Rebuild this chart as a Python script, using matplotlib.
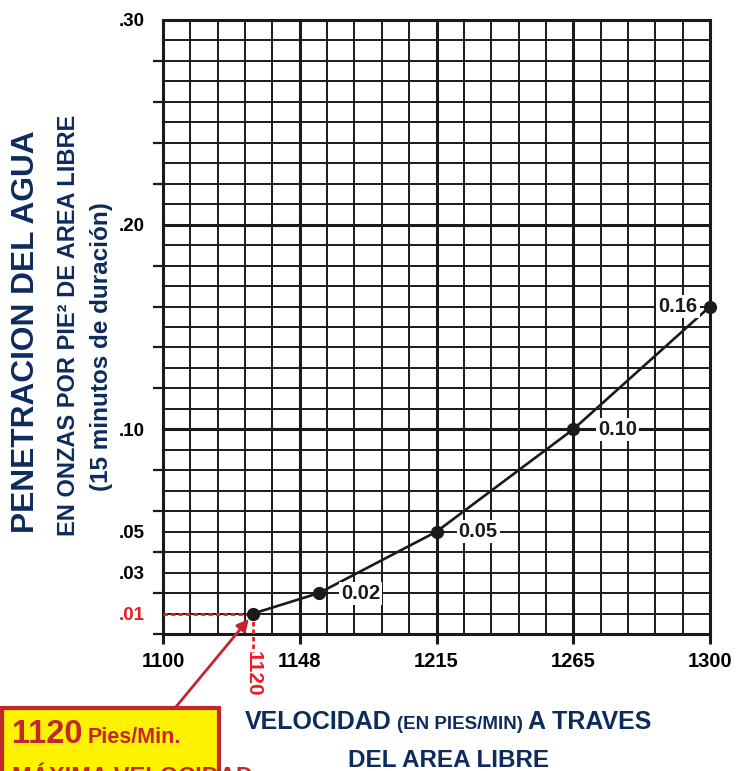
import matplotlib.pyplot as plt
from matplotlib.patches import Rectangle

plt.rcParams['font.family'] = ['Liberation Sans', 'DejaVu Sans']
plt.rcParams['font.weight'] = 'bold'

# x axis is a schematic grid of 20 columns, labelled every 5th column
vel_ticks = [0, 5, 10, 15, 20]
vel_labels = ['1100', '1148', '1215', '1265', '1300']

pen_ticks = [0.30, 0.20, 0.10, 0.05, 0.03, 0.01]
pen_labels = ['.30', '.20', '.10', '.05', '.03', '.01']

point_x = [3.3, 5.7, 10, 15, 20]
point_y = [0.01, 0.02, 0.05, 0.10, 0.16]
point_text = ['', '0.02', '0.05', '0.10', '0.16']
label_dx = [0, 30, 30, 32, -23]   # points

max_vel = '1120'

NAVY = '#0d2b5c'
RED = '#ec1c24'
DARKRED = '#c1272d'
INK = '#1a1a1a'

W, H = 742, 771
fig = plt.figure(figsize=(W / 100, H / 100), dpi=100)


def px(x0, y0, x1, y1):
    return [x0 / W, 1 - y1 / H, (x1 - x0) / W, (y1 - y0) / H]


ax = fig.add_axes(px(163, 20, 710, 634))
ax.patch.set_alpha(0)
ax.set_xlim(0, 20)
ax.set_ylim(0, 0.30)
for s in ax.spines.values():
    s.set_visible(False)

for i in range(21):
    ax.axvline(i, color=INK, lw=2.2 if i % 5 == 0 else 1.4, clip_on=False, zorder=1)
for j in range(31):
    ax.axhline(j / 100, color=INK, lw=2.2 if j % 10 == 0 else 1.4, clip_on=False, zorder=1)

ax.set_xticks(vel_ticks)
ax.set_xticklabels(vel_labels)
ax.tick_params(axis='x', length=7, width=2.2, color=INK, pad=6, labelsize=14.5)

ax.set_yticks(pen_ticks)
ax.set_yticklabels(pen_labels)
ax.set_yticks([j / 100 for j in range(0, 31, 2)], minor=True)
ax.tick_params(axis='y', which='major', length=0, pad=13, labelsize=13.5)
ax.tick_params(axis='y', which='minor', length=7, width=1.6, color=INK)
ax.get_yticklabels()[-1].set_color(RED)

# curve
ax.plot(point_x, point_y, color=INK, lw=1.9, zorder=4, clip_on=False)
ax.plot(point_x, point_y, 'o', color=INK, ms=8.5, zorder=5, clip_on=False)
for x, y, t, dx in zip(point_x, point_y, point_text, label_dx):
    if t:
        ax.annotate(t, (x, y), xytext=(dx, 0), textcoords='offset points',
                    ha='center', va='center', fontsize=14.5, color=INK, zorder=6,
                    bbox=dict(boxstyle='square,pad=0.1', fc='white', ec='none'))

# max velocity marker
ax.plot([0, point_x[0]], [point_y[0]] * 2, color=RED, lw=2, ls=(0, (1.6, 1.1)),
        zorder=3, clip_on=False)
ax.plot([point_x[0]] * 2, [point_y[0], -0.009], color=RED, lw=2, ls=(0, (1.6, 1.1)),
        zorder=3, clip_on=False)
ax.text(point_x[0], -0.0195, max_vel, rotation=-90, color=RED, fontsize=15,
        ha='center', va='center', clip_on=False)
ax.annotate('', xy=(point_x[0], point_y[0]), xytext=(175, H - 708),
            textcoords='figure pixels', annotation_clip=False,
            arrowprops=dict(arrowstyle='-|>,head_length=0.7,head_width=0.35',
                            color=DARKRED, lw=2, shrinkA=0, shrinkB=5))

# y axis title
fig.text(26 / W, 1 - 332 / H, 'PENETRACION DEL AGUA', rotation=90, color=NAVY,
         fontsize=22.8, ha='center', va='center')
fig.text(69 / W, 1 - 325 / H, 'EN ONZAS POR PIE² DE AREA LIBRE', rotation=90,
         color=NAVY, fontsize=17, ha='center', va='center')
fig.text(102 / W, 1 - 347 / H, '(15 minutos de duración)', rotation=90,
         color=NAVY, fontsize=17.5, ha='center', va='center')

renderer = fig.canvas.get_renderer()


def text_run(cx, base, parts, align='center', gap=5, zorder=3):
    items = []
    widths = []
    for s, size, color in parts:
        t = fig.text(0, 1 - base / H, s, fontsize=size, color=color,
                     ha='left', va='baseline', zorder=zorder)
        items.append(t)
        widths.append(t.get_window_extent(renderer=renderer).width)
    total = sum(widths) + gap * (len(parts) - 1)
    x = cx - total / 2 if align == 'center' else cx
    for t, w in zip(items, widths):
        t.set_x(x / W)
        x += w + gap


# x axis title
text_run(448, 729, [('VELOCIDAD', 18, NAVY), ('(EN PIES/MIN)', 13.5, NAVY),
                    ('A TRAVES', 18, NAVY)])
text_run(449, 767, [('DEL AREA LIBRE', 17.5, NAVY)])

# yellow call-out box
fig.add_artist(Rectangle((2 / W, -30 / H), 217 / W, (H - 708 + 30) / H,
                         transform=fig.transFigure, fc='#fff200', ec=DARKRED,
                         lw=3, zorder=5))
text_run(12, 743, [(max_vel, 23.5, DARKRED), ('Pies/Min.', 15.5, DARKRED)],
         align='left', zorder=6)
text_run(12, 784, [('MÁXIMA VELOCIDAD', 17, DARKRED)], align='left', zorder=6)

fig.savefig('out.png', dpi=100)
